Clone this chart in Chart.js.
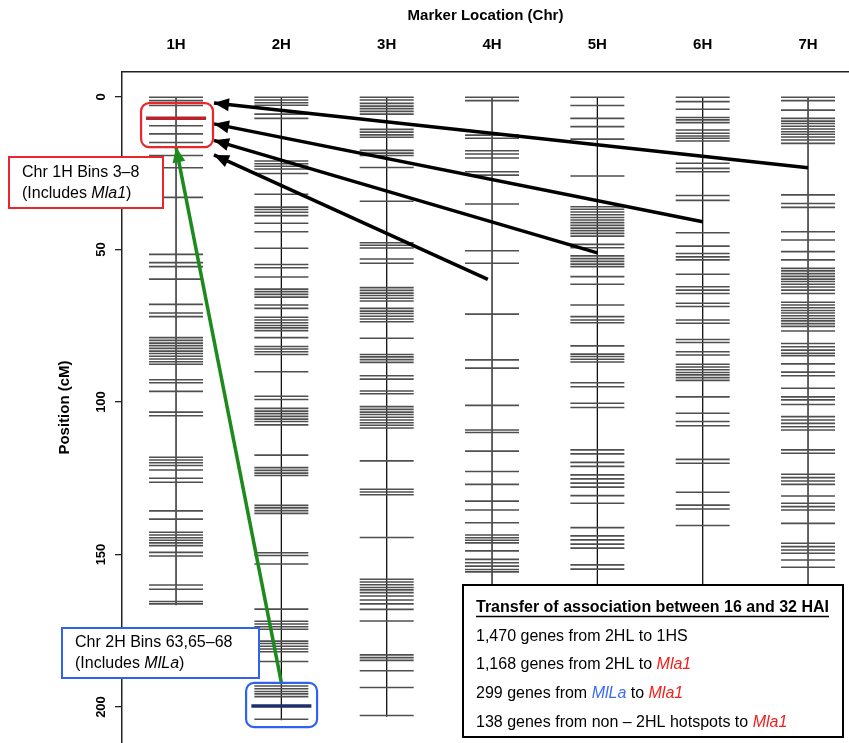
<!DOCTYPE html>
<html>
<head>
<meta charset="utf-8">
<script src="https://cdn.jsdelivr.net/npm/chart.js@4.4.1/dist/chart.umd.min.js"></script>
<style>
  html, body { margin: 0; padding: 0; background: #fff; overflow: hidden; }
  #wrap { width: 849px; height: 743px; }
</style>
</head>
<body>
<div id="wrap"><canvas id="myChart" width="849" height="743"></canvas></div>
<script>
// chromosomes and tick labels
const chromosomes = ['1H', '2H', '3H', '4H', '5H', '6H', '7H'];
const yTickValues = [0, 50, 100, 150, 200];
const chrLength = [166.6, 204.3, 203.2, 160, 165, 165, 165];

// marker positions (cM) per chromosome
const markers1H = [0.1, 1.2, 2.8, 9.4, 12.1, 14.9, 19.2, 23.2, 32.9, 51.6, 54.3, 55.6, 59.7, 68.0, 70.8, 72.0, 78.9, 79.8, 80.7, 81.5, 82.4, 83.3, 84.1, 85.0, 85.9, 86.8, 87.6, 92.7, 93.7, 96.5, 103.3, 104.5, 118.1, 119.0, 119.9, 120.8, 122.3, 125.0, 126.3, 135.7, 138.4, 142.7, 143.6, 144.5, 145.3, 146.2, 147.1, 149.3, 150.5, 160.0, 161.4, 165.4, 166.2];
const markers2H = [0.1, 1.0, 1.9, 2.7, 5.6, 7.0, 21.0, 21.9, 22.7, 23.6, 25.1, 31.9, 36.1, 36.9, 37.8, 38.9, 41.4, 44.2, 49.6, 54.9, 56.0, 59.0, 63.0, 63.8, 64.7, 65.6, 68.2, 69.3, 72.2, 73.1, 74.0, 74.9, 75.7, 76.6, 78.9, 81.8, 82.6, 83.5, 84.4, 90.1, 98.1, 99.2, 102.1, 103.0, 103.8, 104.7, 105.6, 106.4, 107.5, 117.4, 121.5, 122.4, 123.3, 124.1, 133.9, 134.7, 135.6, 136.5, 149.4, 150.3, 153.1, 167.9, 171.9, 172.8, 173.7, 174.5, 178.4, 179.2, 180.1, 181.0, 181.9, 185.1, 193.1, 194.0, 194.9, 195.7, 196.6, 204.0];
const markers3H = [0.1, 1.0, 2.1, 3.0, 3.8, 4.7, 5.6, 10.6, 11.5, 12.4, 13.2, 17.5, 18.4, 19.2, 23.1, 34.2, 47.8, 48.6, 49.5, 53.1, 54.5, 62.5, 63.4, 64.3, 65.1, 66.0, 66.9, 69.3, 70.2, 71.0, 71.9, 72.8, 73.7, 79.1, 84.4, 85.2, 86.1, 87.0, 91.4, 92.5, 96.4, 97.3, 101.5, 102.4, 103.3, 104.1, 105.0, 105.9, 106.8, 107.6, 108.5, 119.3, 128.6, 129.5, 130.4, 144.4, 158.1, 159.0, 159.9, 160.8, 161.6, 162.5, 163.6, 164.9, 166.2, 168.0, 171.8, 182.9, 183.8, 184.7, 188.1, 193.6, 202.8];
const markers4H = [0.1, 1.2, 12.5, 13.5, 17.6, 18.7, 20.0, 24.5, 25.6, 35.1, 50.4, 54.5, 71.2, 86.2, 88.9, 101.1, 109.2, 110.0, 116.1, 122.8, 127.0, 132.5, 135.4, 139.6, 143.6, 144.5, 145.3, 146.2, 148.8, 151.6, 152.7, 153.8, 154.9, 155.7];
const markers5H = [0.1, 2.8, 7.0, 9.7, 13.8, 25.9, 36.0, 36.8, 37.7, 38.6, 39.5, 40.3, 41.2, 42.1, 43.0, 43.8, 44.7, 45.6, 48.3, 49.4, 52.1, 53.0, 53.9, 54.8, 55.6, 58.9, 61.4, 68.2, 72.0, 73.1, 74.0, 81.6, 84.3, 85.1, 86.0, 86.9, 93.7, 95.0, 100.4, 101.8, 115.7, 117.0, 119.8, 121.1, 123.9, 125.2, 126.6, 127.9, 130.7, 133.2, 141.2, 143.9, 145.2, 146.6, 147.9, 153.4, 154.8];
const markers6H = [0.1, 1.5, 4.0, 6.7, 7.5, 8.4, 10.8, 11.9, 12.8, 13.5, 14.4, 21.7, 23.4, 24.5, 32.3, 33.9, 44.5, 48.9, 51.3, 52.4, 53.4, 58.1, 62.2, 63.3, 64.4, 67.6, 68.7, 73.1, 74.2, 79.5, 80.5, 83.5, 84.6, 87.6, 88.5, 89.4, 90.3, 91.1, 92.0, 92.9, 98.3, 103.7, 106.4, 107.8, 118.8, 120.1, 129.6, 133.8, 135.1, 140.5];
const markers7H = [0.1, 1.2, 4.3, 7.0, 7.9, 8.7, 9.6, 10.5, 11.4, 12.2, 13.1, 14.1, 15.2, 32.1, 34.9, 36.2, 44.2, 46.9, 50.7, 53.4, 56.2, 57.0, 57.9, 58.8, 59.7, 60.5, 61.4, 62.3, 63.3, 64.4, 67.3, 68.2, 69.1, 70.0, 70.8, 71.7, 72.6, 73.4, 74.3, 75.2, 76.7, 80.8, 81.9, 83.0, 84.0, 84.8, 87.5, 90.2, 91.4, 95.5, 98.3, 99.3, 100.8, 104.8, 105.9, 107.0, 108.1, 109.2, 115.7, 116.8, 123.7, 124.8, 125.9, 127.0, 130.8, 133.2, 134.3, 135.4, 139.8, 146.3, 147.4, 148.5, 149.6, 151.8, 154.2];
const allMarkers = [markers1H, markers2H, markers3H, markers4H, markers5H, markers6H, markers7H];

// highlighted bins
const mla1Pos = [7.0];     // on 1H
const mlLaPos = [199.7];   // on 2H

// association arrows (x in chromosome units, y in cM)
const arrowFromX = [7.0, 6.0, 5.0, 3.96];
const arrowFromY = [23.2, 40.9, 51.1, 59.8];
const arrowToX = [1.36, 1.36, 1.36, 1.36];
const arrowToY = [2.0, 8.8, 14.2, 19.0];
const greenFrom = [2.0, 192.0];
const greenTo = [1.0, 16.5];

// boxes around bins (x range, y range)
const mla1Box = [0.668, 1.351, 2.0, 16.4];
const mlLaBox = [1.665, 2.339, 192.1, 206.6];

const FONT = '"Liberation Sans", Arial, Helvetica, sans-serif';

const datasets = [];

arrowFromX.forEach((x, i) => {
  datasets.push({
    type: 'line', arrow: true, order: 0,
    data: [{x: x, y: arrowFromY[i]}, {x: arrowToX[i], y: arrowToY[i]}],
    borderColor: '#000', borderWidth: 3.5, pointRadius: 0, borderCapStyle: 'butt'
  });
});
datasets.push({
  type: 'line', arrow: true, order: 0,
  data: [{x: greenFrom[0], y: greenFrom[1]}, {x: greenTo[0], y: greenTo[1]}],
  borderColor: '#1d8a1d', borderWidth: 3.5, pointRadius: 0
});

datasets.push({
  type: 'scatter', order: 1,
  data: mla1Pos.map(p => ({x: 1, y: p})),
  pointStyle: 'line', pointRadius: 30, pointBorderWidth: 3.5, pointBorderColor: '#b8232b'
});
datasets.push({
  type: 'scatter', order: 1,
  data: mlLaPos.map(p => ({x: 2, y: p})),
  pointStyle: 'line', pointRadius: 30, pointBorderWidth: 3.5, pointBorderColor: '#1c2f6b'
});

allMarkers.forEach((arr, i) => {
  datasets.push({
    type: 'scatter', order: 2,
    data: arr.map(p => ({x: i + 1, y: p})),
    pointStyle: 'line', pointRadius: 27, pointBorderWidth: 1.6, pointBorderColor: '#4f4f4f'
  });
});

chrLength.forEach((len, i) => {
  datasets.push({
    type: 'line', order: 3,
    data: [{x: i + 1, y: 0}, {x: i + 1, y: len}],
    borderColor: '#111', borderWidth: 1.3, pointRadius: 0
  });
});

function richText(ctx, parts, x, y, size) {
  let cx = x;
  parts.forEach(p => {
    ctx.font = (p.italic ? 'italic ' : '') + (p.bold ? 'bold ' : '') + size + 'px ' + FONT;
    ctx.fillStyle = p.color || '#000';
    ctx.fillText(p.text, cx, y);
    cx += ctx.measureText(p.text).width;
  });
  return cx;
}

function roundBox(ctx, x1, y1, x2, y2, r) {
  ctx.beginPath();
  ctx.roundRect(x1, y1, x2 - x1, y2 - y1, r);
}

const overlay = {
  id: 'overlay',
  afterDatasetsDraw(chart) {
    const ctx = chart.ctx;
    const xs = chart.scales.x, ys = chart.scales.y;
    ctx.save();
    // arrowheads
    chart.data.datasets.forEach((ds, i) => {
      if (!ds.arrow) return;
      const pts = chart.getDatasetMeta(i).data;
      const a = pts[0], b = pts[pts.length - 1];
      const ang = Math.atan2(b.y - a.y, b.x - a.x);
      const L = 15, W = 6.5;
      ctx.fillStyle = ds.borderColor;
      ctx.beginPath();
      ctx.moveTo(b.x, b.y);
      ctx.lineTo(b.x - L * Math.cos(ang) + W * Math.sin(ang), b.y - L * Math.sin(ang) - W * Math.cos(ang));
      ctx.lineTo(b.x - L * Math.cos(ang) - W * Math.sin(ang), b.y - L * Math.sin(ang) + W * Math.cos(ang));
      ctx.closePath();
      ctx.fill();
    });
    // boxes around highlighted bins
    ctx.lineWidth = 2.2;
    ctx.strokeStyle = '#e8262b';
    roundBox(ctx, xs.getPixelForValue(mla1Box[0]), ys.getPixelForValue(mla1Box[2]),
      xs.getPixelForValue(mla1Box[1]), ys.getPixelForValue(mla1Box[3]), 8);
    ctx.stroke();
    ctx.strokeStyle = '#2f62f0';
    roundBox(ctx, xs.getPixelForValue(mlLaBox[0]), ys.getPixelForValue(mlLaBox[2]),
      xs.getPixelForValue(mlLaBox[1]), ys.getPixelForValue(mlLaBox[3]), 8);
    ctx.stroke();
    ctx.restore();
  },
  afterDraw(chart) {
    const ctx = chart.ctx;
    const ys = chart.scales.y;
    ctx.save();
    // rotated y tick labels
    ctx.fillStyle = '#000';
    ctx.font = 'bold 13px ' + FONT;
    ctx.textAlign = 'center';
    ctx.textBaseline = 'middle';
    yTickValues.forEach(v => {
      ctx.save();
      ctx.translate(101, ys.getPixelForValue(v));
      ctx.rotate(-Math.PI / 2);
      ctx.fillText(String(v), 0, 0);
      ctx.restore();
    });
    ctx.textAlign = 'left';

    // red callout
    ctx.fillStyle = '#fff';
    ctx.fillRect(9, 157, 154, 51);
    ctx.strokeStyle = '#e8262b';
    ctx.lineWidth = 2;
    ctx.strokeRect(9, 157, 154, 51);
    richText(ctx, [{text: 'Chr 1H Bins 3\u20138'}], 22, 173, 16);
    richText(ctx, [{text: '(Includes '}, {text: 'Mla1', italic: true}, {text: ')'}], 22, 194, 16);

    // blue callout
    ctx.fillStyle = '#fff';
    ctx.fillRect(62, 628, 197, 50);
    ctx.strokeStyle = '#2f62f0';
    ctx.strokeRect(62, 628, 197, 50);
    richText(ctx, [{text: 'Chr 2H Bins 63,65\u201368'}], 75, 643, 16);
    richText(ctx, [{text: '(Includes '}, {text: 'MlLa', italic: true}, {text: ')'}], 75, 664, 16);

    // legend box
    ctx.fillStyle = '#fff';
    ctx.fillRect(463, 585, 380, 152);
    ctx.strokeStyle = '#000';
    ctx.lineWidth = 2;
    ctx.strokeRect(463, 585, 380, 152);
    const tEnd = richText(ctx, [{text: 'Transfer of association between 16 and 32 HAI', bold: true}], 476, 608, 16);
    ctx.beginPath();
    ctx.lineWidth = 1.5;
    ctx.moveTo(476, 616.5);
    ctx.lineTo(tEnd, 616.5);
    ctx.stroke();
    const red = '#f0201c', blue = '#3b6cf5';
    richText(ctx, [{text: '1,470 genes from 2HL to 1HS'}], 476, 637, 16);
    richText(ctx, [{text: '1,168 genes from 2HL to '}, {text: 'Mla1', italic: true, color: red}], 476, 665, 16);
    richText(ctx, [{text: '299 genes from '}, {text: 'MlLa', italic: true, color: blue}, {text: ' to '}, {text: 'Mla1', italic: true, color: red}], 476, 694, 16);
    richText(ctx, [{text: '138 genes from non \u2013 2HL hotspots to '}, {text: 'Mla1', italic: true, color: red}], 476, 723, 16);
    ctx.restore();
  }
};

const grafico = document.querySelector('#myChart');

const config = {
  type: 'scatter',
  data: {datasets: datasets},
  options: {
    responsive: false,
    animation: false,
    devicePixelRatio: 1,
    layout: {autoPadding: false, padding: {left: 52, top: 0, right: 0, bottom: 0}},
    plugins: {legend: {display: false}, tooltip: {enabled: false}},
    elements: {line: {tension: 0}},
    scales: {
      x: {
        type: 'linear', position: 'top',
        min: 0.487, max: 7.389,
        afterBuildTicks: s => { s.ticks = chromosomes.map((c, i) => ({value: i + 1})); },
        afterFit: s => { s.height = 72; },
        ticks: {
          callback: v => chromosomes[v - 1],
          font: {family: FONT, size: 15, weight: 'bold'},
          color: '#000', padding: 10, maxRotation: 0
        },
        grid: {display: false},
        border: {display: true, color: '#222', width: 1.5},
        title: {
          display: true, text: 'Marker Location (Chr)',
          font: {family: FONT, size: 15, weight: 'bold'},
          color: '#000', padding: {top: 7, bottom: 4}
        }
      },
      y: {
        type: 'linear', position: 'left', reverse: true,
        min: -8.2, max: 211.8,
        afterBuildTicks: s => { s.ticks = yTickValues.map(v => ({value: v})); },
        afterFit: s => { s.width = 70; },
        ticks: {display: false},
        grid: {display: true, drawOnChartArea: false, drawTicks: true, tickLength: 7, color: '#222', lineWidth: 1.3},
        border: {display: true, color: '#222', width: 1.5},
        title: {
          display: true, text: 'Position (cM)',
          font: {family: FONT, size: 15, weight: 'bold'},
          color: '#000', padding: {top: 4, bottom: 4}
        }
      }
    }
  },
  plugins: [overlay]
};

new Chart(grafico, config);
</script>
</body>
</html>
